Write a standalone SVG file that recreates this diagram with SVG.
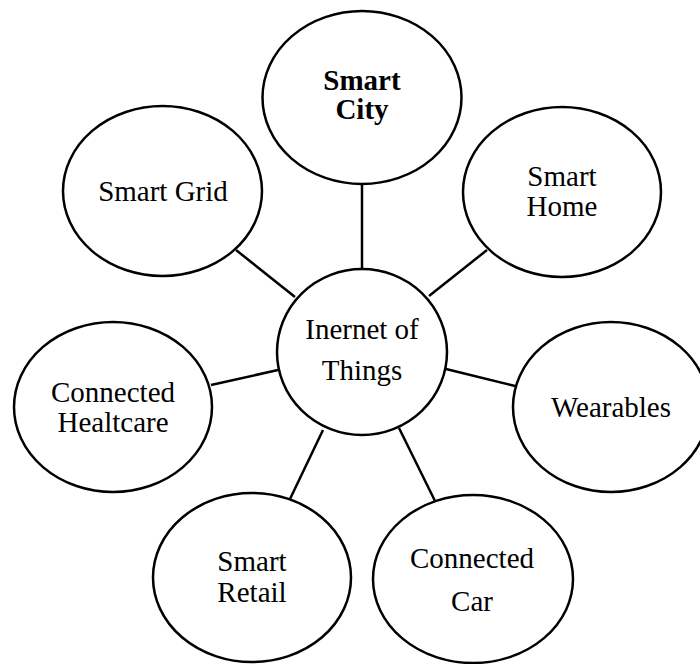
<svg xmlns="http://www.w3.org/2000/svg" width="700" height="664" viewBox="0 0 700 664">
<style>
.n{fill:#fff;stroke:#000;stroke-width:2.5}
.t{font-family:"Liberation Serif","Times New Roman",serif;font-size:29px;fill:#000;text-anchor:middle}
.b{font-weight:bold}
.c line{stroke:#000;stroke-width:2.5}
</style>
<rect width="700" height="664" fill="#fff"/>
<g class="c" id="connectors">
<line x1="362" y1="184" x2="362" y2="269"/>
<line x1="236" y1="250" x2="295" y2="297"/>
<line x1="487" y1="250" x2="429" y2="296"/>
<line x1="211" y1="385" x2="278" y2="370"/>
<line x1="446" y1="369" x2="515" y2="386"/>
<line x1="323" y1="430" x2="290" y2="499"/>
<line x1="399" y1="428" x2="435" y2="501"/>
</g>
<g id="smart-city"><ellipse class="n" cx="362" cy="97.5" rx="99.5" ry="86.5"/><text class="t b" x="362" y="90">Smart</text><text class="t b" x="362" y="119">City</text></g>
<g id="smart-grid"><ellipse class="n" cx="162.5" cy="191" rx="99.5" ry="85"/><text class="t" x="163" y="201">Smart Grid</text></g>
<g id="smart-home"><ellipse class="n" cx="562" cy="192" rx="99" ry="85"/><text class="t" x="562" y="186">Smart</text><text class="t" x="562" y="216">Home</text></g>
<g id="iot"><ellipse class="n" cx="362" cy="352" rx="85" ry="83"/><text class="t" x="362" y="339">Inernet of</text><text class="t" x="362" y="380">Things</text></g>
<g id="connected-healthcare"><ellipse class="n" cx="113" cy="407" rx="99" ry="85"/><text class="t" x="113" y="402">Connected</text><text class="t" x="113" y="432">Healtcare</text></g>
<g id="wearables"><ellipse class="n" cx="611" cy="407" rx="98" ry="85"/><text class="t" x="611" y="417">Wearables</text></g>
<g id="smart-retail"><ellipse class="n" cx="252" cy="577.5" rx="99" ry="84.5"/><text class="t" x="252" y="571">Smart</text><text class="t" x="252" y="602">Retail</text></g>
<g id="connected-car"><ellipse class="n" cx="473" cy="579" rx="100" ry="84"/><text class="t" x="472" y="568">Connected</text><text class="t" x="472" y="611">Car</text></g>
</svg>
